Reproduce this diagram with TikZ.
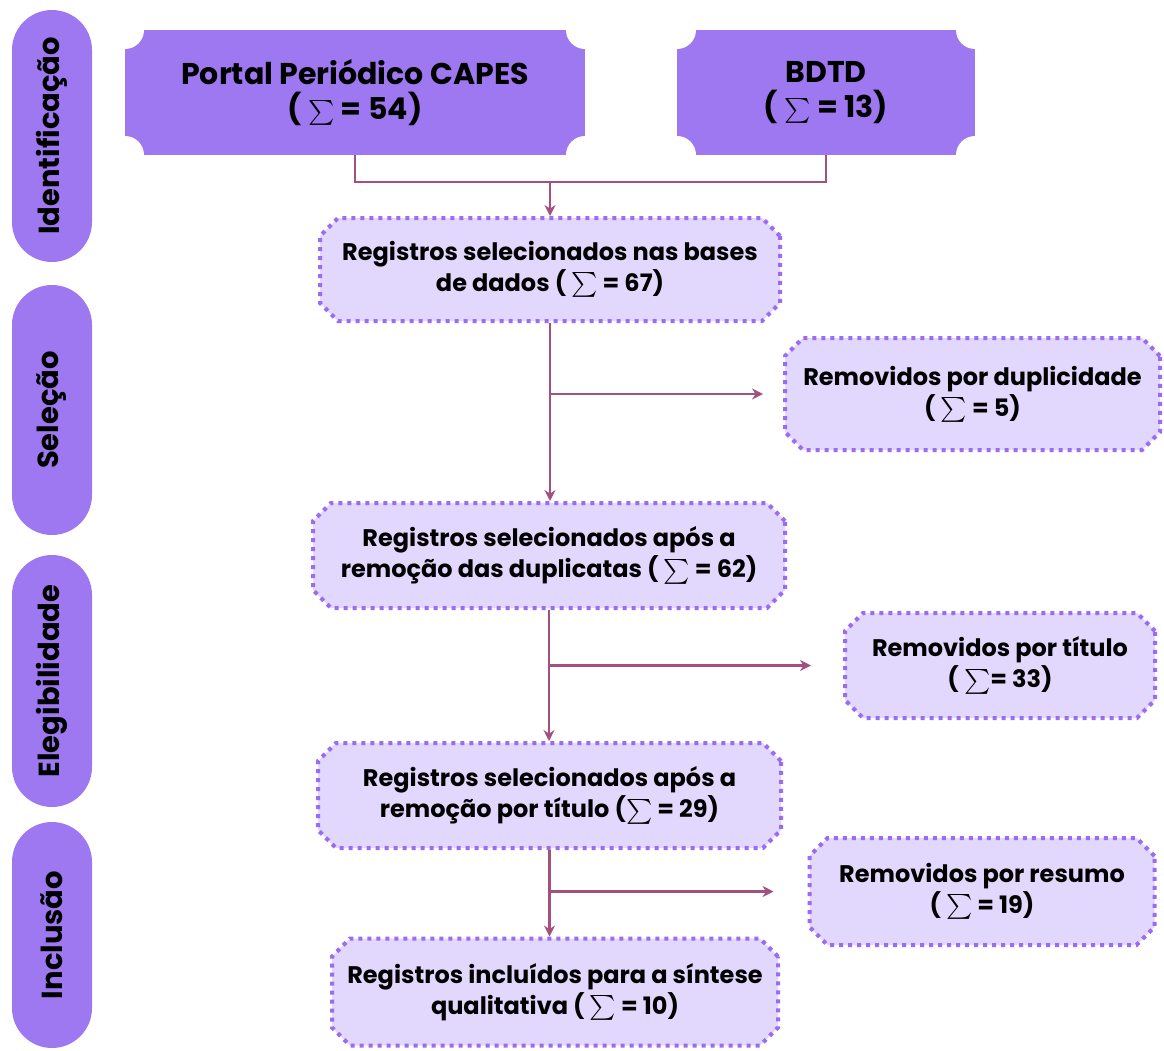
\documentclass[tikz,border=0pt]{standalone}
\usepackage{amsmath}
\usepackage{fontspec}
\setmainfont{Poppins}
\newcommand{\somat}{$\sum$}
\usetikzlibrary{shapes.misc, arrows.meta, calc}

\definecolor{phase}{HTML}{9D78F1}
\definecolor{boxfill}{HTML}{E2D7FC}
\definecolor{dotline}{HTML}{9A6CF2}
\definecolor{linkcol}{HTML}{A3507F}

\begin{document}
\begin{tikzpicture}[x=1pt, y=-1pt,
    stage/.style={fill=phase, rounded corners=40pt, minimum width=#1, minimum height=80pt,
        inner sep=0pt, rotate=90, font=\bfseries\fontsize{29}{34}\selectfont},
    source/.style={fill=phase, inner sep=0pt, minimum height=125pt, align=center,
        font=\bfseries\fontsize{30}{35}\selectfont,
        path picture={\fill[white]
            (path picture bounding box.north west) circle[radius=19pt]
            (path picture bounding box.north east) circle[radius=19pt]
            (path picture bounding box.south west) circle[radius=19pt]
            (path picture bounding box.south east) circle[radius=19pt];}},
    record/.style={chamfered rectangle, chamfered rectangle xsep=9pt, chamfered rectangle ysep=9pt,
        fill=boxfill, draw=dotline, line width=4pt, dash pattern=on 4pt off 5pt,
        inner sep=0pt, align=center, font=\bfseries\fontsize{24}{31}\selectfont},
    flow/.style={draw=linkcol, line width=2.6pt, -{Stealth[length=11pt, width=11pt]}},
    link/.style={draw=linkcol, line width=2.6pt}]

    \useasboundingbox (0,0) rectangle (1164,1050);

    % phases on the left
    \node[stage=252pt] (ident) at (52,136) {Identificação};
    \node[stage=250pt] (selec) at (52,410) {Seleção};
    \node[stage=252pt] (eleg) at (52,681) {Elegibilidade};
    \node[stage=226pt] (incl) at (52,935) {Inclusão};

    % data bases
    \node[source, minimum width=460pt] (capes) at (355,92.5) {Portal Periódico CAPES\\( \somat{} = 54)};
    \node[source, minimum width=298pt] (bdtd) at (826,92.5) {BDTD\\( \somat{} = 13)};

    % main column
    \node[record, minimum width=460pt, minimum height=103pt] (reg1) at (550,269.5)
        {Registros selecionados nas bases\\de dados ( \somat{} = 67)};
    \node[record, minimum width=472pt, minimum height=105pt] (reg2) at (549,555.5)
        {Registros selecionados após a\\remoção das duplicatas ( \somat{} = 62)};
    \node[record, minimum width=463pt, minimum height=105pt] (reg3) at (549.5,795.5)
        {Registros selecionados após a\\remoção por título (\somat{} = 29)};
    \node[record, minimum width=446pt, minimum height=107pt] (reg4) at (555,992)
        {Registros incluídos para a síntese\\qualitativa ( \somat{} = 10)};

    % removed records
    \node[record, minimum width=375pt, minimum height=112pt] (dup) at (972.5,394)
        {Removidos por duplicidade\\( \somat{} = 5)};
    \node[record, minimum width=310pt, minimum height=105pt] (tit) at (1000,665.5)
        {Removidos por título\\( \somat{}= 33)};
    \node[record, minimum width=345pt, minimum height=107pt] (res) at (982,891.5)
        {Removidos por resumo\\( \somat{} = 19)};

    % joining the two bases
    \coordinate (join) at (reg1.north |- 0,182);
    \draw[link] (capes.south) |- (join) -| (bdtd.south);
    \draw[flow] (join) -- (reg1.north);

    % down the main column
    \draw[flow] (reg1.south) -- (reg1.south |- reg2.north);
    \draw[flow] (reg2.south) -- (reg2.south |- reg3.north);
    \draw[flow] (reg3.south) -- (reg3.south |- reg4.north);

    % branches to the removed records
    \coordinate (dupin) at ($(dup.west)+(-20,0)$);
    \coordinate (titin) at ($(tit.west)+(-32,0)$);
    \coordinate (resin) at ($(res.west)+(-34,0)$);
    \draw[flow] (reg1.south |- dupin) -- (dupin);
    \draw[flow] (reg2.south |- titin) -- (titin);
    \draw[flow] (reg3.south |- resin) -- (resin);

\end{tikzpicture}
\end{document}
